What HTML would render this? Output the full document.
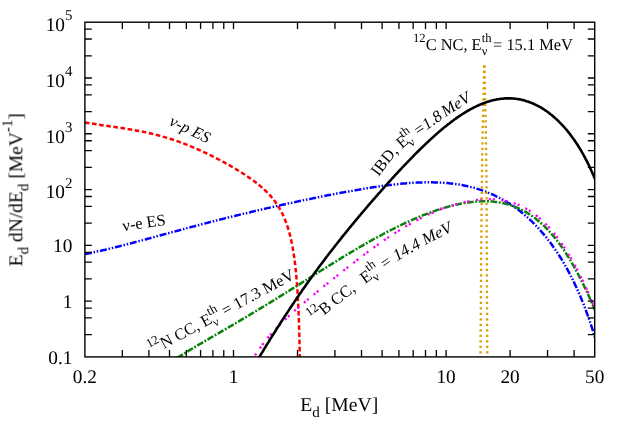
<!DOCTYPE html>
<html><head><meta charset="utf-8"><title>plot</title>
<style>
html,body{margin:0;padding:0;background:#fff;}
svg{display:block;font-family:"Liberation Serif",serif;text-rendering:geometricPrecision;}
text{fill:#000;}
.t{opacity:0.999;}
</style></head><body>
<svg width="630" height="440" viewBox="0 0 630 440">
<rect width="630" height="440" fill="#fff"/>
<defs><path id="pB" d="M305.00,329.80 L308.78,326.79 L312.63,323.87 L316.51,321.00 L320.40,318.13 L324.26,315.23 L328.08,312.27 L331.86,309.26 L335.63,306.24 L339.40,303.23 L343.20,300.24 L347.03,297.29 L350.88,294.39 L354.76,291.51 L358.66,288.65 L362.56,285.79 L366.45,282.93 L370.34,280.06 L374.23,277.19 L378.13,274.33 L382.04,271.50 L385.98,268.70 L389.95,265.96 L393.97,263.28 L398.03,260.67 L402.14,258.13 L406.29,255.66 L410.47,253.24 L414.69,250.87 L418.93,248.55 L423.19,246.26 L427.46,244.00 L431.75,241.78 L436.06,239.59 L440.38,237.44 L444.72,235.32 L449.09,233.25 L453.47,231.22 L457.87,229.24 L462.30,227.30"/><path id="pI" d="M370.50,187.00 L372.90,184.14 L375.24,181.22 L377.54,178.26 L379.82,175.26 L382.08,172.25 L384.35,169.25 L386.63,166.25 L388.94,163.29 L391.29,160.36 L393.70,157.50 L396.18,154.70 L398.74,152.00 L401.40,149.39 L404.17,146.90 L407.03,144.50 L409.97,142.19 L412.97,139.95 L416.02,137.76 L419.10,135.59 L422.19,133.45 L425.28,131.31 L428.35,129.15 L431.41,126.99 L434.46,124.82 L437.52,122.67 L440.58,120.52 L443.66,118.39 L446.75,116.29 L449.87,114.21 L453.00,112.16 L456.15,110.14 L459.32,108.15 L462.51,106.18 L465.72,104.24 L468.94,102.33 L472.18,100.45 L475.44,98.61 L478.71,96.79 L482.00,95.00"/><clipPath id="c"><rect x="84.9" y="22.2" width="509.80000000000007" height="334.7"/></clipPath></defs>
<g clip-path="url(#c)" fill="none">
<path d="M84.90,122.4 L92.08,123.6 L99.02,124.7 L105.73,125.7 L112.21,126.6 L118.49,127.5 L124.55,128.4 L130.41,129.4 L136.07,130.4 L141.55,131.4 L146.84,132.5 L151.96,133.7 L156.91,135.0 L161.69,136.3 L166.32,137.6 L170.79,139.0 L175.11,140.4 L179.28,141.9 L183.32,143.4 L187.23,144.9 L191.00,146.4 L194.65,148.0 L198.18,149.5 L201.59,151.0 L204.88,152.6 L208.07,154.1 L211.15,155.6 L214.13,157.1 L217.01,158.6 L219.79,160.0 L222.48,161.5 L225.08,162.9 L227.60,164.3 L230.03,165.7 L232.38,167.0 L234.65,168.3 L236.85,169.7 L238.97,171.0 L241.02,172.2 L243.01,173.5 L244.92,174.7 L246.78,176.0 L248.57,177.2 L250.30,178.4 L251.98,179.6 L253.60,180.8 L255.16,181.9 L256.68,183.1 L258.14,184.3 L259.56,185.4 L260.92,186.6 L262.24,187.7 L263.52,188.9 L264.76,190.0 L265.95,191.1 L267.11,192.3 L268.22,193.4 L269.30,194.6 L270.35,195.7 L271.35,196.9 L272.33,198.0 L273.27,199.2 L274.18,200.4 L275.06,201.5 L275.91,202.7 L276.74,203.9 L277.53,205.1 L278.30,206.3 L279.05,207.5 L279.76,208.8 L280.46,210.0 L281.13,211.2 L281.78,212.5 L282.41,213.8 L283.02,215.0 L283.60,216.3 L284.17,217.6 L284.72,218.9 L285.25,220.2 L285.76,221.6 L286.26,222.9 L286.74,224.2 L287.20,225.6 L287.65,227.0 L288.08,228.3 L288.50,229.7 L288.90,231.1 L289.29,232.5 L289.67,233.9 L290.04,235.4 L290.39,236.8 L290.73,238.2 L291.06,239.7 L291.38,241.2 L291.69,242.6 L291.99,244.1 L292.27,245.6 L292.55,247.1 L292.82,248.6 L293.08,250.1 L293.33,251.6 L293.58,253.2 L293.81,254.7 L294.04,256.3 L294.26,257.8 L294.47,259.4 L294.68,260.9 L294.88,262.5 L295.07,264.1 L295.26,265.7 L295.44,267.3 L295.61,268.9 L295.78,270.5 L295.94,272.1 L296.10,273.7 L296.25,275.3 L296.39,277.0 L296.54,278.6 L296.67,280.2 L296.80,281.9 L296.93,283.5 L297.06,285.2 L297.18,286.8 L297.29,288.5 L297.40,290.2 L297.51,291.8 L297.62,293.5 L297.72,295.2 L297.81,296.9 L297.91,298.5 L298.00,300.2 L298.09,301.9 L298.17,303.6 L298.26,305.3 L298.34,307.0 L298.41,308.7 L298.49,310.4 L298.56,312.2 L298.63,313.9 L298.70,315.6 L298.76,317.3 L298.82,319.0 L298.88,320.8 L298.94,322.5 L299.00,324.2 L299.05,326.0 L299.11,327.7 L299.16,329.4 L299.21,331.2 L299.26,332.9 L299.30,334.7 L299.35,336.4 L299.39,338.2 L299.43,339.9 L299.47,341.7 L299.51,343.4 L299.55,345.2 L299.59,346.9 L299.62,348.7 L299.66,350.4 L299.69,352.2 L299.72,354.0 L299.75,355.7 L299.78,357.5 L299.81,359.2 L299.84,361.0 L299.87,362.8 L299.89,364.6" stroke="#ff0000" stroke-width="2.5" stroke-dasharray="4.6 2.6"/>
<path d="M84.9,254.0 L86.4,253.8 L87.8,253.5 L89.3,253.2 L90.8,252.9 L92.2,252.6 L93.7,252.3 L95.1,252.0 L96.6,251.6 L98.1,251.3 L99.5,251.0 L101.0,250.7 L102.5,250.3 L103.9,250.0 L105.4,249.7 L106.8,249.3 L108.3,249.0 L109.8,248.6 L111.2,248.3 L112.7,247.9 L114.2,247.5 L115.6,247.2 L117.1,246.8 L118.5,246.5 L120.0,246.1 L121.5,245.7 L122.9,245.4 L124.4,245.0 L125.9,244.6 L127.3,244.2 L128.8,243.8 L130.2,243.5 L131.7,243.1 L133.2,242.7 L134.6,242.3 L136.1,241.9 L137.6,241.5 L139.0,241.1 L140.5,240.8 L141.9,240.4 L143.4,240.0 L144.9,239.6 L146.3,239.2 L147.8,238.8 L149.3,238.4 L150.7,238.0 L152.2,237.6 L153.6,237.2 L155.1,236.8 L156.6,236.4 L158.0,236.0 L159.5,235.6 L161.0,235.2 L162.4,234.8 L163.9,234.4 L165.4,234.0 L166.8,233.6 L168.3,233.2 L169.7,232.8 L171.2,232.4 L172.7,232.0 L174.1,231.6 L175.6,231.3 L177.1,230.9 L178.5,230.5 L180.0,230.1 L181.4,229.7 L182.9,229.3 L184.4,228.9 L185.8,228.5 L187.3,228.1 L188.8,227.7 L190.2,227.3 L191.7,226.9 L193.1,226.5 L194.6,226.2 L196.1,225.8 L197.5,225.4 L199.0,225.0 L200.5,224.6 L201.9,224.2 L203.4,223.8 L204.8,223.5 L206.3,223.1 L207.8,222.7 L209.2,222.3 L210.7,221.9 L212.2,221.6 L213.6,221.2 L215.1,220.8 L216.5,220.4 L218.0,220.1 L219.5,219.7 L220.9,219.3 L222.4,219.0 L223.9,218.6 L225.3,218.2 L226.8,217.9 L228.2,217.5 L229.7,217.1 L231.2,216.8 L232.6,216.4 L234.1,216.1 L235.6,215.7 L237.0,215.3 L238.5,215.0 L240.0,214.6 L241.4,214.3 L242.9,213.9 L244.3,213.6 L245.8,213.2 L247.3,212.9 L248.7,212.5 L250.2,212.2 L251.7,211.8 L253.1,211.5 L254.6,211.1 L256.0,210.8 L257.5,210.5 L259.0,210.1 L260.4,209.8 L261.9,209.4 L263.4,209.1 L264.8,208.8 L266.3,208.4 L267.7,208.1 L269.2,207.8 L270.7,207.4 L272.1,207.1 L273.6,206.8 L275.1,206.4 L276.5,206.1 L278.0,205.8 L279.4,205.5 L280.9,205.1 L282.4,204.8 L283.8,204.5 L285.3,204.2 L286.8,203.9 L288.2,203.5 L289.7,203.2 L291.1,202.9 L292.6,202.6 L294.1,202.3 L295.5,202.0 L297.0,201.6 L298.5,201.3 L299.9,201.0 L301.4,200.7 L302.8,200.4 L304.3,200.1 L305.8,199.8 L307.2,199.5 L308.7,199.2 L310.2,198.9 L311.6,198.6 L313.1,198.3 L314.6,198.0 L316.0,197.7 L317.5,197.4 L318.9,197.1 L320.4,196.8 L321.9,196.5 L323.3,196.2 L324.8,195.9 L326.3,195.6 L327.7,195.3 L329.2,195.1 L330.6,194.8 L332.1,194.5 L333.6,194.2 L335.0,193.9 L336.5,193.6 L338.0,193.4 L339.4,193.1 L340.9,192.8 L342.3,192.5 L343.8,192.3 L345.3,192.0 L346.7,191.7 L348.2,191.5 L349.7,191.2 L351.1,190.9 L352.6,190.7 L354.0,190.4 L355.5,190.2 L357.0,189.9 L358.4,189.7 L359.9,189.4 L361.4,189.2 L362.8,188.9 L364.3,188.7 L365.7,188.5 L367.2,188.2 L368.7,188.0 L370.1,187.8 L371.6,187.5 L373.1,187.3 L374.5,187.1 L376.0,186.9 L377.5,186.7 L378.9,186.4 L380.4,186.2 L381.8,186.0 L383.3,185.8 L384.8,185.6 L386.2,185.4 L387.7,185.3 L389.2,185.1 L390.6,184.9 L392.1,184.7 L393.5,184.6 L395.0,184.4 L396.5,184.2 L397.9,184.1 L399.4,183.9 L400.9,183.8 L402.3,183.6 L403.8,183.5 L405.2,183.4 L406.7,183.3 L408.2,183.2 L409.6,183.0 L411.1,182.9 L412.6,182.8 L414.0,182.8 L415.5,182.7 L416.9,182.6 L418.4,182.5 L419.9,182.5 L421.3,182.4 L422.8,182.4 L424.3,182.4 L425.7,182.3 L427.2,182.3 L428.6,182.3 L430.1,182.3 L431.6,182.3 L433.0,182.3 L434.5,182.4 L436.0,182.4 L437.4,182.5 L438.9,182.5 L440.3,182.6 L441.8,182.7 L443.3,182.8 L444.7,182.9 L446.2,183.0 L447.7,183.1 L449.1,183.3 L450.6,183.4 L452.1,183.6 L453.5,183.8 L455.0,184.0 L456.4,184.2 L457.9,184.4 L459.4,184.6 L460.8,184.9 L462.3,185.1 L463.8,185.4 L465.2,185.7 L466.7,186.0 L468.1,186.4 L469.6,186.7 L471.1,187.1 L472.5,187.4 L474.0,187.8 L475.5,188.2 L476.9,188.7 L478.4,189.1 L479.8,189.6 L481.3,190.1 L482.8,190.6 L484.2,191.1 L485.7,191.6 L487.2,192.2 L488.6,192.8 L490.1,193.4 L491.5,194.0 L493.0,194.7 L494.5,195.4 L495.9,196.1 L497.4,196.8 L498.9,197.5 L500.3,198.3 L501.8,199.1 L503.2,199.9 L504.7,200.7 L506.2,201.6 L507.6,202.5 L509.1,203.4 L510.6,204.4 L512.0,205.3 L513.5,206.3 L514.9,207.4 L516.4,208.4 L517.9,209.5 L519.3,210.6 L520.8,211.8 L522.3,213.0 L523.7,214.2 L525.2,215.4 L526.7,216.7 L528.1,218.0 L529.6,219.4 L531.0,220.7 L532.5,222.2 L534.0,223.6 L535.4,225.1 L536.9,226.6 L538.4,228.2 L539.8,229.8 L541.3,231.5 L542.7,233.2 L544.2,234.9 L545.7,236.7 L547.1,238.5 L548.6,240.4 L550.1,242.3 L551.5,244.3 L553.0,246.4 L554.4,248.4 L555.9,250.6 L557.4,252.8 L558.8,255.0 L560.3,257.3 L561.8,259.7 L563.2,262.1 L564.7,264.6 L566.1,267.2 L567.6,269.9 L569.1,272.6 L570.5,275.4 L572.0,278.3 L573.5,281.2 L574.9,284.3 L576.4,287.4 L577.8,290.7 L579.3,294.0 L580.8,297.4 L582.2,301.0 L583.7,304.6 L585.2,308.4 L586.6,312.3 L588.1,316.4 L589.5,320.5 L591.0,324.8 L592.5,329.3 L593.9,333.9 L595.4,338.7" stroke="#0000ff" stroke-width="2.5" stroke-dasharray="7 1.8 1.5 1.8 1.5 1.8"/>
<path d="M177.2,357.9 L178.4,357.1 L179.6,356.4 L180.8,355.6 L182.0,354.9 L183.2,354.1 L184.4,353.4 L185.6,352.6 L186.8,351.9 L188.0,351.2 L189.2,350.4 L190.4,349.7 L191.6,349.0 L192.8,348.3 L194.0,347.6 L195.2,346.8 L196.4,346.1 L197.6,345.4 L198.8,344.7 L200.0,344.0 L201.2,343.3 L202.4,342.6 L203.6,341.9 L204.8,341.2 L206.0,340.5 L207.2,339.8 L208.4,339.1 L209.6,338.4 L210.8,337.7 L212.0,337.0 L213.2,336.3 L214.4,335.6 L215.6,334.9 L216.8,334.2 L218.0,333.5 L219.2,332.8 L220.4,332.1 L221.6,331.4 L222.8,330.7 L224.0,330.0 L225.2,329.3 L226.4,328.6 L227.6,327.9 L228.8,327.2 L230.0,326.5 L231.2,325.8 L232.4,325.1 L233.6,324.4 L234.8,323.7 L236.0,323.0 L237.2,322.3 L238.4,321.6 L239.6,320.9 L240.8,320.2 L242.0,319.4 L243.2,318.7 L244.4,318.0 L245.6,317.3 L246.8,316.6 L248.0,315.9 L249.2,315.2 L250.4,314.4 L251.6,313.7 L252.8,313.0 L254.0,312.3 L255.2,311.6 L256.4,310.8 L257.6,310.1 L258.8,309.4 L260.0,308.7 L261.2,307.9 L262.4,307.2 L263.6,306.5 L264.8,305.7 L266.0,305.0 L267.2,304.3 L268.4,303.5 L269.6,302.8 L270.8,302.1 L272.0,301.3 L273.2,300.6 L274.4,299.8 L275.6,299.1 L276.8,298.4 L278.0,297.6 L279.2,296.9 L280.4,296.1 L281.6,295.4 L282.8,294.6 L284.0,293.9 L285.2,293.1 L286.4,292.4 L287.6,291.6 L288.8,290.9 L290.0,290.1 L291.2,289.4 L292.4,288.6 L293.6,287.9 L294.8,287.1 L296.0,286.4 L297.2,285.6 L298.4,284.9 L299.6,284.1 L300.8,283.4 L302.0,282.6 L303.2,281.8 L304.4,281.1 L305.6,280.3 L306.8,279.6 L308.0,278.8 L309.2,278.1 L310.4,277.3 L311.6,276.6 L312.8,275.8 L314.0,275.1 L315.2,274.3 L316.4,273.6 L317.6,272.8 L318.8,272.0 L320.0,271.3 L321.2,270.5 L322.4,269.8 L323.6,269.0 L324.8,268.3 L326.0,267.6 L327.2,266.8 L328.4,266.1 L329.6,265.3 L330.8,264.6 L332.0,263.8 L333.2,263.1 L334.4,262.4 L335.6,261.6 L336.8,260.9 L338.0,260.1 L339.2,259.4 L340.4,258.7 L341.6,257.9 L342.8,257.2 L344.0,256.5 L345.2,255.8 L346.4,255.0 L347.6,254.3 L348.8,253.6 L350.0,252.9 L351.2,252.2 L352.4,251.5 L353.6,250.7 L354.8,250.0 L356.0,249.3 L357.2,248.6 L358.4,247.9 L359.6,247.2 L360.8,246.5 L362.0,245.8 L363.2,245.1 L364.4,244.4 L365.6,243.8 L366.8,243.1 L368.0,242.4 L369.2,241.7 L370.4,241.0 L371.6,240.4 L372.8,239.7 L374.0,239.0 L375.2,238.4 L376.4,237.7 L377.6,237.1 L378.8,236.4 L380.0,235.8 L381.2,235.1 L382.4,234.5 L383.6,233.8 L384.8,233.2 L386.0,232.6 L387.3,231.9 L388.5,231.3 L389.7,230.7 L390.9,230.1 L392.1,229.5 L393.3,228.9 L394.5,228.3 L395.7,227.7 L396.9,227.1 L398.1,226.5 L399.3,225.9 L400.5,225.3 L401.7,224.7 L402.9,224.2 L404.1,223.6 L405.3,223.0 L406.5,222.5 L407.7,221.9 L408.9,221.4 L410.1,220.8 L411.3,220.3 L412.5,219.7 L413.7,219.2 L414.9,218.7 L416.1,218.2 L417.3,217.7 L418.5,217.2 L419.7,216.7 L420.9,216.2 L422.1,215.7 L423.3,215.2 L424.5,214.7 L425.7,214.3 L426.9,213.8 L428.1,213.3 L429.3,212.9 L430.5,212.4 L431.7,212.0 L432.9,211.6 L434.1,211.1 L435.3,210.7 L436.5,210.3 L437.7,209.9 L438.9,209.5 L440.1,209.1 L441.3,208.7 L442.5,208.4 L443.7,208.0 L444.9,207.6 L446.1,207.3 L447.3,207.0 L448.5,206.6 L449.7,206.3 L450.9,206.0 L452.1,205.7 L453.3,205.4 L454.5,205.1 L455.7,204.8 L456.9,204.5 L458.1,204.3 L459.3,204.0 L460.5,203.8 L461.7,203.5 L462.9,203.3 L464.1,203.1 L465.3,202.9 L466.5,202.7 L467.7,202.5 L468.9,202.4 L470.1,202.2 L471.3,202.1 L472.5,201.9 L473.7,201.8 L474.9,201.7 L476.1,201.6 L477.3,201.5 L478.5,201.4 L479.7,201.4 L480.9,201.3 L482.1,201.3 L483.3,201.3 L484.5,201.3 L485.7,201.3 L486.9,201.3 L488.1,201.3 L489.3,201.4 L490.5,201.5 L491.7,201.5 L492.9,201.6 L494.1,201.8 L495.3,201.9 L496.5,202.0 L497.7,202.2 L498.9,202.4 L500.1,202.6 L501.3,202.8 L502.5,203.1 L503.7,203.3 L504.9,203.6 L506.1,203.9 L507.3,204.2 L508.5,204.6 L509.7,204.9 L510.9,205.3 L512.1,205.7 L513.3,206.1 L514.5,206.6 L515.7,207.1 L516.9,207.6 L518.1,208.1 L519.3,208.6 L520.5,209.2 L521.7,209.8 L522.9,210.4 L524.1,211.0 L525.3,211.7 L526.5,212.4 L527.7,213.1 L528.9,213.9 L530.1,214.7 L531.3,215.5 L532.5,216.3 L533.7,217.2 L534.9,218.1 L536.1,219.0 L537.3,220.0 L538.5,221.0 L539.7,222.0 L540.9,223.0 L542.1,224.1 L543.3,225.2 L544.5,226.4 L545.7,227.6 L546.9,228.8 L548.1,230.1 L549.3,231.4 L550.5,232.7 L551.7,234.1 L552.9,235.5 L554.1,236.9 L555.3,238.4 L556.5,239.9 L557.7,241.5 L558.9,243.1 L560.1,244.7 L561.3,246.4 L562.5,248.1 L563.7,249.8 L564.9,251.6 L566.1,253.5 L567.3,255.3 L568.5,257.3 L569.7,259.2 L570.9,261.2 L572.1,263.3 L573.3,265.3 L574.5,267.5 L575.7,269.6 L576.9,271.9 L578.1,274.1 L579.3,276.4 L580.5,278.7 L581.7,281.1 L582.9,283.5 L584.1,286.0 L585.3,288.5 L586.5,291.0 L587.7,293.6 L588.9,296.2 L590.1,298.9 L591.3,301.6 L592.5,304.3 L593.7,307.1 L594.9,309.9 L596.1,312.7" stroke="#0a830a" stroke-width="2.5" stroke-dasharray="6.7 1.6 1.9 1.6"/>
<path d="M252.8,358.9 L253.8,357.3 L254.8,355.8 L255.8,354.3 L256.7,352.8 L257.7,351.3 L258.7,349.9 L259.7,348.5 L260.7,347.2 L261.7,345.8 L262.6,344.5 L263.6,343.3 L264.6,342.0 L265.6,340.7 L266.6,339.5 L267.6,338.3 L268.5,337.1 L269.5,336.0 L270.5,334.8 L271.5,333.7 L272.5,332.6 L273.5,331.5 L274.4,330.4 L275.4,329.4 L276.4,328.3 L277.4,327.3 L278.4,326.3 L279.4,325.2 L280.4,324.3 L281.3,323.3 L282.3,322.3 L283.3,321.3 L284.3,320.4 L285.3,319.4 L286.3,318.5 L287.2,317.6 L288.2,316.6 L289.2,315.7 L290.2,314.8 L291.2,313.9 L292.2,313.0 L293.1,312.1 L294.1,311.3 L295.1,310.4 L296.1,309.5 L297.1,308.7 L298.1,307.8 L299.0,307.0 L300.0,306.1 L301.0,305.3 L302.0,304.4 L303.0,303.6 L304.0,302.8 L304.9,301.9 L305.9,301.1 L306.9,300.3 L307.9,299.4 L308.9,298.6 L309.9,297.8 L310.9,297.0 L311.8,296.2 L312.8,295.4 L313.8,294.6 L314.8,293.8 L315.8,292.9 L316.8,292.1 L317.7,291.3 L318.7,290.5 L319.7,289.7 L320.7,288.9 L321.7,288.1 L322.7,287.3 L323.6,286.5 L324.6,285.7 L325.6,285.0 L326.6,284.2 L327.6,283.4 L328.6,282.6 L329.5,281.8 L330.5,281.0 L331.5,280.2 L332.5,279.4 L333.5,278.6 L334.5,277.8 L335.5,277.0 L336.4,276.3 L337.4,275.5 L338.4,274.7 L339.4,273.9 L340.4,273.1 L341.4,272.4 L342.3,271.6 L343.3,270.8 L344.3,270.0 L345.3,269.2 L346.3,268.5 L347.3,267.7 L348.2,266.9 L349.2,266.1 L350.2,265.4 L351.2,264.6 L352.2,263.8 L353.2,263.1 L354.1,262.3 L355.1,261.6 L356.1,260.8 L357.1,260.0 L358.1,259.3 L359.1,258.5 L360.1,257.8 L361.0,257.0 L362.0,256.3 L363.0,255.5 L364.0,254.8 L365.0,254.0 L366.0,253.3 L366.9,252.6 L367.9,251.8 L368.9,251.1 L369.9,250.4 L370.9,249.7 L371.9,248.9 L372.8,248.2 L373.8,247.5 L374.8,246.8 L375.8,246.1 L376.8,245.4 L377.8,244.7 L378.7,244.0 L379.7,243.3 L380.7,242.6 L381.7,241.9 L382.7,241.2 L383.7,240.6 L384.6,239.9 L385.6,239.2 L386.6,238.5 L387.6,237.9 L388.6,237.2 L389.6,236.6 L390.6,235.9 L391.5,235.3 L392.5,234.6 L393.5,234.0 L394.5,233.4 L395.5,232.7 L396.5,232.1 L397.4,231.5 L398.4,230.9 L399.4,230.3 L400.4,229.6 L401.4,229.0 L402.4,228.5 L403.3,227.9 L404.3,227.3 L405.3,226.7 L406.3,226.1 L407.3,225.5 L408.3,225.0 L409.2,224.4 L410.2,223.9 L411.2,223.3 L412.2,222.8 L413.2,222.2 L414.2,221.7 L415.2,221.2 L416.1,220.6 L417.1,220.1 L418.1,219.6 L419.1,219.1 L420.1,218.6 L421.1,218.1 L422.0,217.6 L423.0,217.1 L424.0,216.6 L425.0,216.2 L426.0,215.7 L427.0,215.2 L427.9,214.8 L428.9,214.3 L429.9,213.9 L430.9,213.4 L431.9,213.0 L432.9,212.6 L433.8,212.1 L434.8,211.7 L435.8,211.3 L436.8,210.9 L437.8,210.5 L438.8,210.1 L439.8,209.7 L440.7,209.3 L441.7,209.0 L442.7,208.6 L443.7,208.2 L444.7,207.9 L445.7,207.5 L446.6,207.2 L447.6,206.8 L448.6,206.5 L449.6,206.2 L450.6,205.9 L451.6,205.6 L452.5,205.3 L453.5,205.0 L454.5,204.7 L455.5,204.4 L456.5,204.1 L457.5,203.8 L458.4,203.6 L459.4,203.3 L460.4,203.0 L461.4,202.8 L462.4,202.6 L463.4,202.3 L464.4,202.1 L465.3,201.9 L466.3,201.7 L467.3,201.5 L468.3,201.3 L469.3,201.1 L470.3,200.9 L471.2,200.8 L472.2,200.6 L473.2,200.4 L474.2,200.3 L475.2,200.2 L476.2,200.0 L477.1,199.9 L478.1,199.8 L479.1,199.7 L480.1,199.6 L481.1,199.5 L482.1,199.4 L483.0,199.4 L484.0,199.3 L485.0,199.3 L486.0,199.2 L487.0,199.2 L488.0,199.2 L488.9,199.2 L489.9,199.2 L490.9,199.2 L491.9,199.2 L492.9,199.3 L493.9,199.3 L494.9,199.4 L495.8,199.5 L496.8,199.5 L497.8,199.6 L498.8,199.7 L499.8,199.9 L500.8,200.0 L501.7,200.1 L502.7,200.3 L503.7,200.5 L504.7,200.7 L505.7,200.9 L506.7,201.1 L507.6,201.3 L508.6,201.6 L509.6,201.8 L510.6,202.1 L511.6,202.4 L512.6,202.7 L513.5,203.0 L514.5,203.3 L515.5,203.7 L516.5,204.1 L517.5,204.4 L518.5,204.9 L519.5,205.3 L520.4,205.7 L521.4,206.2 L522.4,206.6 L523.4,207.1 L524.4,207.7 L525.4,208.2 L526.3,208.7 L527.3,209.3 L528.3,209.9 L529.3,210.5 L530.3,211.1 L531.3,211.8 L532.2,212.5 L533.2,213.2 L534.2,213.9 L535.2,214.6 L536.2,215.4 L537.2,216.2 L538.1,217.0 L539.1,217.8 L540.1,218.6 L541.1,219.5 L542.1,220.4 L543.1,221.3 L544.1,222.3 L545.0,223.2 L546.0,224.2 L547.0,225.3 L548.0,226.3 L549.0,227.4 L550.0,228.5 L550.9,229.6 L551.9,230.7 L552.9,231.9 L553.9,233.1 L554.9,234.3 L555.9,235.6 L556.8,236.9 L557.8,238.2 L558.8,239.5 L559.8,240.9 L560.8,242.3 L561.8,243.7 L562.7,245.1 L563.7,246.6 L564.7,248.1 L565.7,249.6 L566.7,251.2 L567.7,252.8 L568.6,254.4 L569.6,256.0 L570.6,257.7 L571.6,259.4 L572.6,261.1 L573.6,262.9 L574.6,264.7 L575.5,266.5 L576.5,268.4 L577.5,270.2 L578.5,272.1 L579.5,274.1 L580.5,276.1 L581.4,278.1 L582.4,280.1 L583.4,282.1 L584.4,284.2 L585.4,286.4 L586.4,288.5 L587.3,290.7 L588.3,292.9 L589.3,295.2 L590.3,297.4 L591.3,299.8 L592.3,302.1 L593.2,304.5 L594.2,306.9 L595.2,309.3 L596.2,311.8" stroke="#ff00ff" stroke-width="2.3" stroke-dasharray="2.2 1.9 2.2 6.4"/>
<path d="M484.2,65.3 L483.4,100 L482.7,130 L481.9,180 L481.2,250 L480.5,357" stroke="#d89e05" stroke-width="2.3" stroke-dasharray="2.3 3.2"/>
<path d="M484.4,65.3 L485.2,100 L485.8,130 L486.5,180 L486.8,250 L487.3,357" stroke="#d89e05" stroke-width="2.3" stroke-dasharray="2.3 3.2"/>
<path d="M257.8,359.5 L258.8,357.9 L259.7,356.3 L260.7,354.7 L261.7,353.1 L262.7,351.6 L263.6,350.0 L264.6,348.4 L265.6,346.8 L266.5,345.2 L267.5,343.6 L268.5,342.1 L269.4,340.5 L270.4,338.9 L271.4,337.4 L272.4,335.8 L273.3,334.3 L274.3,332.7 L275.3,331.2 L276.2,329.7 L277.2,328.1 L278.2,326.6 L279.2,325.1 L280.1,323.6 L281.1,322.0 L282.1,320.5 L283.0,319.0 L284.0,317.5 L285.0,316.1 L285.9,314.6 L286.9,313.1 L287.9,311.6 L288.9,310.1 L289.8,308.7 L290.8,307.2 L291.8,305.8 L292.7,304.3 L293.7,302.9 L294.7,301.4 L295.6,300.0 L296.6,298.6 L297.6,297.1 L298.6,295.7 L299.5,294.3 L300.5,292.9 L301.5,291.5 L302.4,290.1 L303.4,288.7 L304.4,287.3 L305.4,285.9 L306.3,284.6 L307.3,283.2 L308.3,281.8 L309.2,280.5 L310.2,279.1 L311.2,277.8 L312.1,276.4 L313.1,275.1 L314.1,273.7 L315.1,272.4 L316.0,271.1 L317.0,269.8 L318.0,268.4 L318.9,267.1 L319.9,265.8 L320.9,264.5 L321.9,263.2 L322.8,261.9 L323.8,260.6 L324.8,259.4 L325.7,258.1 L326.7,256.8 L327.7,255.5 L328.6,254.3 L329.6,253.0 L330.6,251.7 L331.6,250.5 L332.5,249.2 L333.5,248.0 L334.5,246.7 L335.4,245.5 L336.4,244.3 L337.4,243.0 L338.4,241.8 L339.3,240.6 L340.3,239.4 L341.3,238.1 L342.2,236.9 L343.2,235.7 L344.2,234.5 L345.1,233.3 L346.1,232.1 L347.1,230.9 L348.1,229.7 L349.0,228.5 L350.0,227.3 L351.0,226.2 L351.9,225.0 L352.9,223.8 L353.9,222.6 L354.8,221.5 L355.8,220.3 L356.8,219.1 L357.8,218.0 L358.7,216.8 L359.7,215.6 L360.7,214.5 L361.6,213.3 L362.6,212.2 L363.6,211.0 L364.6,209.9 L365.5,208.8 L366.5,207.6 L367.5,206.5 L368.4,205.3 L369.4,204.2 L370.4,203.1 L371.3,202.0 L372.3,200.8 L373.3,199.7 L374.3,198.6 L375.2,197.5 L376.2,196.4 L377.2,195.3 L378.1,194.2 L379.1,193.1 L380.1,192.0 L381.1,190.9 L382.0,189.8 L383.0,188.7 L384.0,187.6 L384.9,186.5 L385.9,185.4 L386.9,184.3 L387.8,183.3 L388.8,182.2 L389.8,181.1 L390.8,180.0 L391.7,179.0 L392.7,177.9 L393.7,176.8 L394.6,175.8 L395.6,174.7 L396.6,173.7 L397.6,172.6 L398.5,171.6 L399.5,170.5 L400.5,169.5 L401.4,168.5 L402.4,167.4 L403.4,166.4 L404.3,165.4 L405.3,164.4 L406.3,163.3 L407.3,162.3 L408.2,161.3 L409.2,160.3 L410.2,159.3 L411.1,158.3 L412.1,157.3 L413.1,156.3 L414.0,155.4 L415.0,154.4 L416.0,153.4 L417.0,152.4 L417.9,151.5 L418.9,150.5 L419.9,149.5 L420.8,148.6 L421.8,147.6 L422.8,146.7 L423.8,145.8 L424.7,144.8 L425.7,143.9 L426.7,143.0 L427.6,142.1 L428.6,141.2 L429.6,140.3 L430.5,139.4 L431.5,138.5 L432.5,137.6 L433.5,136.7 L434.4,135.9 L435.4,135.0 L436.4,134.1 L437.3,133.3 L438.3,132.4 L439.3,131.6 L440.3,130.8 L441.2,130.0 L442.2,129.1 L443.2,128.3 L444.1,127.5 L445.1,126.8 L446.1,126.0 L447.0,125.2 L448.0,124.4 L449.0,123.7 L450.0,122.9 L450.9,122.2 L451.9,121.4 L452.9,120.7 L453.8,120.0 L454.8,119.3 L455.8,118.6 L456.7,117.9 L457.7,117.2 L458.7,116.6 L459.7,115.9 L460.6,115.3 L461.6,114.6 L462.6,114.0 L463.5,113.4 L464.5,112.8 L465.5,112.2 L466.5,111.6 L467.4,111.0 L468.4,110.5 L469.4,109.9 L470.3,109.4 L471.3,108.9 L472.3,108.3 L473.2,107.8 L474.2,107.3 L475.2,106.9 L476.2,106.4 L477.1,105.9 L478.1,105.5 L479.1,105.0 L480.0,104.6 L481.0,104.2 L482.0,103.8 L483.0,103.4 L483.9,103.1 L484.9,102.7 L485.9,102.4 L486.8,102.0 L487.8,101.7 L488.8,101.4 L489.7,101.1 L490.7,100.9 L491.7,100.6 L492.7,100.3 L493.6,100.1 L494.6,99.9 L495.6,99.7 L496.5,99.5 L497.5,99.3 L498.5,99.2 L499.5,99.0 L500.4,98.9 L501.4,98.8 L502.4,98.7 L503.3,98.6 L504.3,98.5 L505.3,98.4 L506.2,98.4 L507.2,98.4 L508.2,98.4 L509.2,98.4 L510.1,98.4 L511.1,98.4 L512.1,98.5 L513.0,98.5 L514.0,98.6 L515.0,98.7 L515.9,98.8 L516.9,99.0 L517.9,99.1 L518.9,99.3 L519.8,99.4 L520.8,99.6 L521.8,99.9 L522.7,100.1 L523.7,100.3 L524.7,100.6 L525.7,100.9 L526.6,101.2 L527.6,101.5 L528.6,101.8 L529.5,102.2 L530.5,102.5 L531.5,102.9 L532.4,103.3 L533.4,103.7 L534.4,104.2 L535.4,104.6 L536.3,105.1 L537.3,105.6 L538.3,106.1 L539.2,106.6 L540.2,107.2 L541.2,107.7 L542.2,108.3 L543.1,108.9 L544.1,109.5 L545.1,110.2 L546.0,110.8 L547.0,111.5 L548.0,112.2 L548.9,112.9 L549.9,113.7 L550.9,114.5 L551.9,115.2 L552.8,116.0 L553.8,116.9 L554.8,117.7 L555.7,118.6 L556.7,119.5 L557.7,120.4 L558.7,121.3 L559.6,122.3 L560.6,123.3 L561.6,124.3 L562.5,125.3 L563.5,126.4 L564.5,127.5 L565.4,128.6 L566.4,129.7 L567.4,130.9 L568.4,132.1 L569.3,133.3 L570.3,134.6 L571.3,135.9 L572.2,137.2 L573.2,138.5 L574.2,139.9 L575.1,141.3 L576.1,142.7 L577.1,144.2 L578.1,145.7 L579.0,147.3 L580.0,148.9 L581.0,150.5 L581.9,152.2 L582.9,153.9 L583.9,155.6 L584.9,157.4 L585.8,159.3 L586.8,161.1 L587.8,163.1 L588.7,165.0 L589.7,167.1 L590.7,169.2 L591.6,171.3 L592.6,173.5 L593.6,175.7 L594.6,178.0 L595.5,180.4 L596.5,182.9" stroke="#000" stroke-width="2.6"/>
</g>
<path d="M122.34,356.9 v-6.9 M122.34,22.2 v6.9 M148.90,356.9 v-6.9 M148.90,22.2 v6.9 M169.50,356.9 v-6.9 M169.50,22.2 v6.9 M186.34,356.9 v-6.9 M186.34,22.2 v6.9 M200.57,356.9 v-6.9 M200.57,22.2 v6.9 M212.90,356.9 v-6.9 M212.90,22.2 v6.9 M223.77,356.9 v-6.9 M223.77,22.2 v6.9 M233.50,356.9 v-6.9 M233.50,22.2 v6.9 M297.50,356.9 v-6.9 M297.50,22.2 v6.9 M334.94,356.9 v-6.9 M334.94,22.2 v6.9 M361.50,356.9 v-6.9 M361.50,22.2 v6.9 M382.10,356.9 v-6.9 M382.10,22.2 v6.9 M398.93,356.9 v-6.9 M398.93,22.2 v6.9 M413.17,356.9 v-6.9 M413.17,22.2 v6.9 M425.50,356.9 v-6.9 M425.50,22.2 v6.9 M436.37,356.9 v-6.9 M436.37,22.2 v6.9 M446.10,356.9 v-6.9 M446.10,22.2 v6.9 M510.10,356.9 v-6.9 M510.10,22.2 v6.9 M547.54,356.9 v-6.9 M547.54,22.2 v6.9 M574.10,356.9 v-6.9 M574.10,22.2 v6.9 M84.9,334.70 h6.9 M594.7,334.70 h-6.9 M84.9,317.91 h6.9 M594.7,317.91 h-6.9 M84.9,308.09 h6.9 M594.7,308.09 h-6.9 M84.9,301.12 h6.9 M594.7,301.12 h-6.9 M84.9,278.92 h6.9 M594.7,278.92 h-6.9 M84.9,262.13 h6.9 M594.7,262.13 h-6.9 M84.9,252.30 h6.9 M594.7,252.30 h-6.9 M84.9,245.33 h6.9 M594.7,245.33 h-6.9 M84.9,223.13 h6.9 M594.7,223.13 h-6.9 M84.9,206.34 h6.9 M594.7,206.34 h-6.9 M84.9,196.52 h6.9 M594.7,196.52 h-6.9 M84.9,189.55 h6.9 M594.7,189.55 h-6.9 M84.9,167.35 h6.9 M594.7,167.35 h-6.9 M84.9,150.56 h6.9 M594.7,150.56 h-6.9 M84.9,140.74 h6.9 M594.7,140.74 h-6.9 M84.9,133.77 h6.9 M594.7,133.77 h-6.9 M84.9,111.57 h6.9 M594.7,111.57 h-6.9 M84.9,94.78 h6.9 M594.7,94.78 h-6.9 M84.9,84.95 h6.9 M594.7,84.95 h-6.9 M84.9,77.98 h6.9 M594.7,77.98 h-6.9 M84.9,55.78 h6.9 M594.7,55.78 h-6.9 M84.9,38.99 h6.9 M594.7,38.99 h-6.9 M84.9,29.17 h6.9 M594.7,29.17 h-6.9 " stroke="#000" stroke-width="1.3" fill="none"/>
<rect x="84.9" y="22.2" width="509.80000000000007" height="334.7" fill="none" stroke="#000" stroke-width="1.4"/>
<g class="t">
<text x="72.4" y="31.0" text-anchor="end" font-size="19.3">10<tspan dy="-10.7" font-size="14.9">5</tspan></text><text x="72.4" y="86.8" text-anchor="end" font-size="19.3">10<tspan dy="-10.7" font-size="14.9">4</tspan></text><text x="72.4" y="142.6" text-anchor="end" font-size="19.3">10<tspan dy="-10.7" font-size="14.9">3</tspan></text><text x="72.4" y="198.3" text-anchor="end" font-size="19.3">10<tspan dy="-10.7" font-size="14.9">2</tspan></text><text x="72.4" y="252.3" text-anchor="end" font-size="19.3">10</text><text x="72.4" y="308.1" text-anchor="end" font-size="19.3">1</text><text x="72.4" y="363.9" text-anchor="end" font-size="19.3">0.1</text>
<text x="84.9" y="383.4" text-anchor="middle" font-size="19.3">0.2</text><text x="233.5" y="383.4" text-anchor="middle" font-size="19.3">1</text><text x="446.1" y="383.4" text-anchor="middle" font-size="19.3">10</text><text x="510.1" y="383.4" text-anchor="middle" font-size="19.3">20</text><text x="594.7" y="383.4" text-anchor="middle" font-size="19.3">50</text>
<text x="300.3" y="411.4" font-size="19.650000000000002">E<tspan dy="5.4" font-size="15.1">d</tspan><tspan dy="-5.4"> [MeV]</tspan></text>
<text transform="translate(22.3,266.4) rotate(-90)" font-size="19.5">E<tspan dy="5.6" font-size="15.1">d</tspan><tspan dy="-5.6"> dN/dE</tspan><tspan dy="5.6" font-size="15.1">d</tspan><tspan dy="-5.6"> [MeV</tspan><tspan dy="-10.2" font-size="15.1">-1</tspan><tspan dy="10.2">]</tspan></text>
<g transform="translate(413.0,49.6) rotate(0)" font-size="16.4"><text x="0.00" y="-7.87" font-size="12.63">12</text><text x="12.63" y="0" xml:space="preserve">C NC, E</text><text x="68.67" y="-7.87" font-size="12.63">th</text><text x="68.67" y="4.92" font-size="12.63">ν</text><text x="80.09" y="0" xml:space="preserve">= 15.1 MeV</text></g><g transform="translate(152.5,355.0) rotate(-28.2)" font-size="16.4"><text x="0.00" y="-7.87" font-size="12.63">12</text><text x="12.63" y="0" xml:space="preserve">N CC, E</text><text x="68.67" y="-7.87" font-size="12.63">th</text><text x="68.67" y="4.92" font-size="12.63">ν</text><text x="78.49" y="0" xml:space="preserve"> = 17.3 MeV</text></g><text font-size="16.4" xml:space="preserve"><textPath href="#pB" startOffset="11.1"><tspan dy="-7.87" font-size="12.63">12</tspan><tspan dy="7.87">B CC,  </tspan><tspan dx="2.50">E</tspan><tspan dy="-7.87" font-size="12.63">th</tspan><tspan dy="12.79" dx="-9.82" font-size="12.63">ν</tspan><tspan dy="-4.92" dx="4.11" font-style="italic"> = 14.4 MeV</tspan></textPath></text><text font-size="16.4" xml:space="preserve"><textPath href="#pI" startOffset="12.8"><tspan>IBD, E</tspan><tspan dy="-7.87" dx="-2.50" font-size="12.63">th</tspan><tspan dy="12.79" dx="-8.52" font-size="12.63">ν</tspan><tspan dy="-4.92" dx="6.81">=</tspan><tspan dx="0.50" font-style="italic">1.8</tspan><tspan dx="2.50" font-style="italic">MeV</tspan></textPath></text><g transform="translate(168.2,124.8) rotate(25.5)" font-size="16.4"><text x="0.00" y="0" font-style="italic" xml:space="preserve">ν-p ES</text></g><g transform="translate(123.3,231.2) rotate(-8.5)" font-size="16.4"><text x="0.00" y="0" xml:space="preserve">ν-e ES</text></g>
</g>
</svg>
</body></html>
